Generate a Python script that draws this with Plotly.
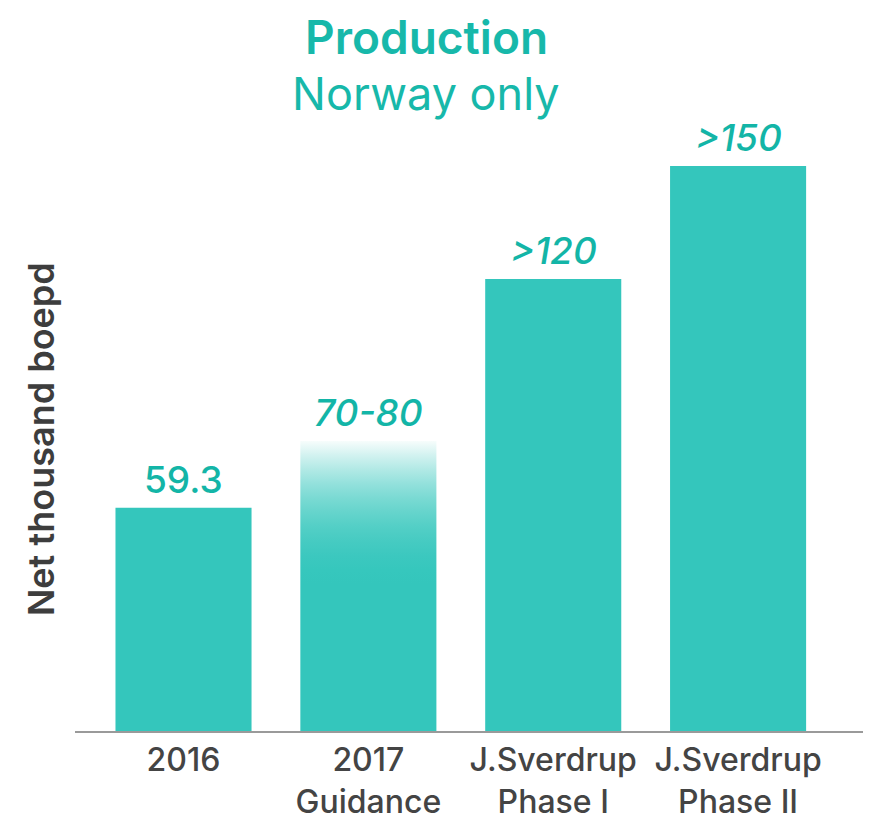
import plotly.graph_objects as go

# ---- data ----
categories = ["2016", "2017<br>Guidance", "J.Sverdrup<br>Phase I", "J.Sverdrup<br>Phase II"]
values = [59.3, 77, 120, 150]
value_labels = ["59.3", "70-80", ">120", ">150"]
label_italic = [False, True, True, True]
gradient_index = 1          # the guidance bar fades out towards its top
gradient_start = 39         # value where the fade begins

title_main = "Production"
title_sub = "Norway only"
y_title = "Net thousand boepd"

# ---- styles ----
FONT = "Inter"
BAR = (0x34, 0xC6, 0xBC)
BAR_HEX = "#34C6BC"
TEAL_TEXT = "#13B5A7"
TITLE_TEAL = "#17B8AA"
GREY_TEXT = "#444444"
BAR_WIDTH = 0.736
X_RANGE = [-0.587, 3.719]

# page body has an 8px margin, so the figure is drawn 8px in from the top-left
W, H = 863, 814
ML, MR, MT, MB = 67, 0, 22, 91
PLOT_W = W - ML - MR
PLOT_H = H - MT - MB

def px_x(page_x):   # page pixel -> paper x
    return (page_x - 8 - ML) / PLOT_W

def px_y(page_y):   # page pixel -> paper y
    return (H - MB - (page_y - 8)) / PLOT_H

xpos = list(range(len(categories)))

# the guidance bar is painted by the gradient shape below; its plain bar is transparent
bar_colors = ["rgba(0,0,0,0)" if i == gradient_index else BAR_HEX for i in xpos]

fig = go.Figure()
fig.add_trace(go.Bar(
    x=xpos, y=values, width=BAR_WIDTH,
    marker=dict(color=bar_colors, line=dict(width=0)),
    hoverinfo="skip", showlegend=False,
))

# gradient-filled guidance bar: solid up to gradient_start, fading to white at its top
top = values[gradient_index]
cx = xpos[gradient_index]
x0, x1 = cx - BAR_WIDTH / 2, cx + BAR_WIDTH / 2
p0 = gradient_start / top
stops = [[0, BAR_HEX]]
for k in range(11):
    p = k / 10
    w = 0.96 * p ** 2
    c = tuple(round(ch + w * (255 - ch)) for ch in BAR)
    stops.append([p0 + (1 - p0) * p, "rgb(%d,%d,%d)" % c])
fig.add_trace(go.Scatter(
    x=[x0, x1, x1, x0, x0], y=[0, 0, top, top, 0],
    mode="lines", line=dict(width=0), fill="toself",
    fillgradient=dict(type="vertical", colorscale=stops, start=0, stop=top),
    hoverinfo="skip", showlegend=False,
))

annotations = []
for xi, v, lab, it in zip(xpos, values, value_labels, label_italic):
    annotations.append(dict(
        x=xi, y=v, xref="x", yref="y", text=lab, showarrow=False,
        yanchor="bottom", yshift=4,
        font=dict(family=FONT, size=37, color=TEAL_TEXT,
                  style="italic" if it else "normal", weight=500),
    ))

annotations += [
    dict(text=title_main, xref="paper", yref="paper", x=px_x(426), y=px_y(36.5),
         xanchor="center", yanchor="middle", showarrow=False,
         font=dict(family=FONT, size=46, color=TITLE_TEAL, weight=600)),
    dict(text=title_sub, xref="paper", yref="paper", x=px_x(426), y=px_y(94),
         xanchor="center", yanchor="middle", showarrow=False,
         font=dict(family=FONT, size=45, color=TITLE_TEAL, weight=400)),
    dict(text=y_title, xref="paper", yref="paper", x=px_x(40.5), y=px_y(439.5),
         xanchor="center", yanchor="middle", textangle=-90, showarrow=False,
         font=dict(family=FONT, size=36, color="#3D3D3D", weight=600)),
]

fig.update_layout(
    width=W, height=H,
    margin=dict(l=ML, r=MR, t=MT, b=MB),
    paper_bgcolor="white", plot_bgcolor="white",
    barmode="overlay",
    annotations=annotations,
    xaxis=dict(
        range=X_RANGE, tickvals=xpos, ticktext=categories,
        showline=True, linecolor="#9A9A9A", linewidth=2,
        ticks="", showgrid=False, zeroline=False,
        tickfont=dict(family=FONT, size=32, color=GREY_TEXT, weight=500),
    ),
    yaxis=dict(range=[0, 186.1], visible=False, showgrid=False, zeroline=False),
)

fig.write_html("out.html")
